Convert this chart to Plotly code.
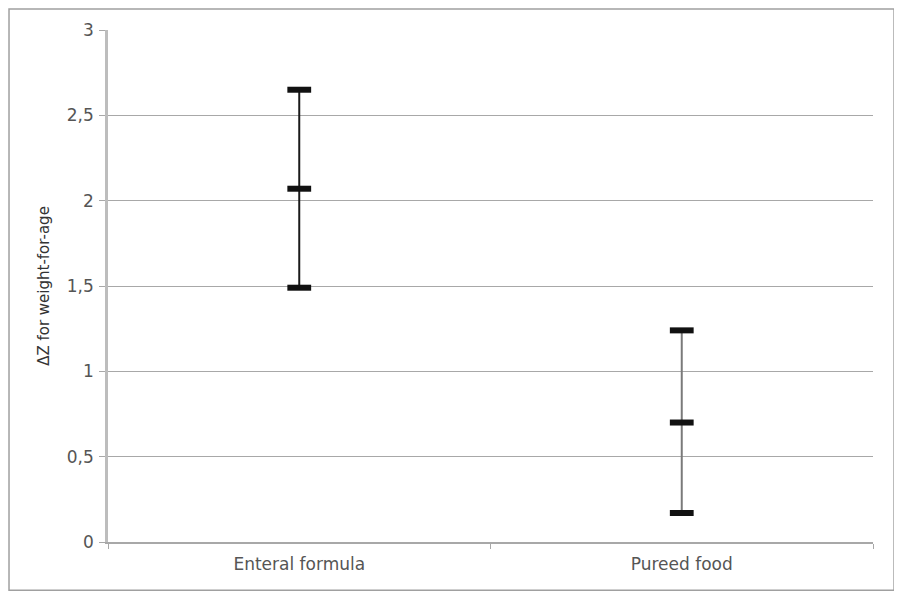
import plotly.graph_objects as go

categories = ["Enteral formula", "Pureed food"]
upper = [2.65, 1.24]
mean = [2.07, 0.70]
lower = [1.49, 0.17]
line_colors = ["#1a1a1a", "#7a7a7a"]
y_ticks = [0, 0.5, 1, 1.5, 2, 2.5, 3]

fig = go.Figure()

# vertical whiskers
for i, cat in enumerate(categories):
    fig.add_trace(go.Scatter(
        x=[cat, cat], y=[lower[i], upper[i]], mode="lines",
        line=dict(color=line_colors[i], width=2), showlegend=False, hoverinfo="skip"))

# dashes for upper, mean, lower
for vals in (upper, mean, lower):
    fig.add_trace(go.Scatter(
        x=categories, y=vals, mode="markers",
        marker=dict(symbol="line-ew", size=17, line=dict(color="#111111", width=6)),
        showlegend=False))

fig.update_layout(
    width=902, height=598,
    margin=dict(l=100, r=37, t=22, b=64),
    paper_bgcolor="white", plot_bgcolor="white",
    separators=", ",
    font=dict(family="DejaVu Sans, sans-serif", color="#555555"),
    shapes=[dict(type="rect", xref="paper", yref="paper",
                 x0=-0.1294, x1=1.0275, y0=-0.094, y1=1.041,
                 line=dict(color="#a0a0a0", width=1.5), layer="below")],
)
fig.update_xaxes(
    type="category", range=[-0.5, 1.5],
    showline=True, linecolor="#a8a8a8", linewidth=1.5,
    ticks="outside", tickson="boundaries", ticklen=5, tickcolor="#a8a8a8",
    ticklabelstandoff=6,
    tickfont=dict(size=17, color="#555555"), showgrid=False, zeroline=False)
fig.update_yaxes(
    range=[0, 3], tickvals=y_ticks,
    showline=True, linecolor="#bdbdbd", linewidth=2.5,
    ticks="outside", ticklen=6, tickcolor="#a8a8a8",
    gridcolor="#a8a8a8", gridwidth=1, zeroline=False,
    ticklabelstandoff=2,
    tickfont=dict(size=17, color="#555555"),
    title=dict(text="ΔZ for weight-for-age", font=dict(size=15, color="#333333"), standoff=14))

fig.write_html("out.html")
